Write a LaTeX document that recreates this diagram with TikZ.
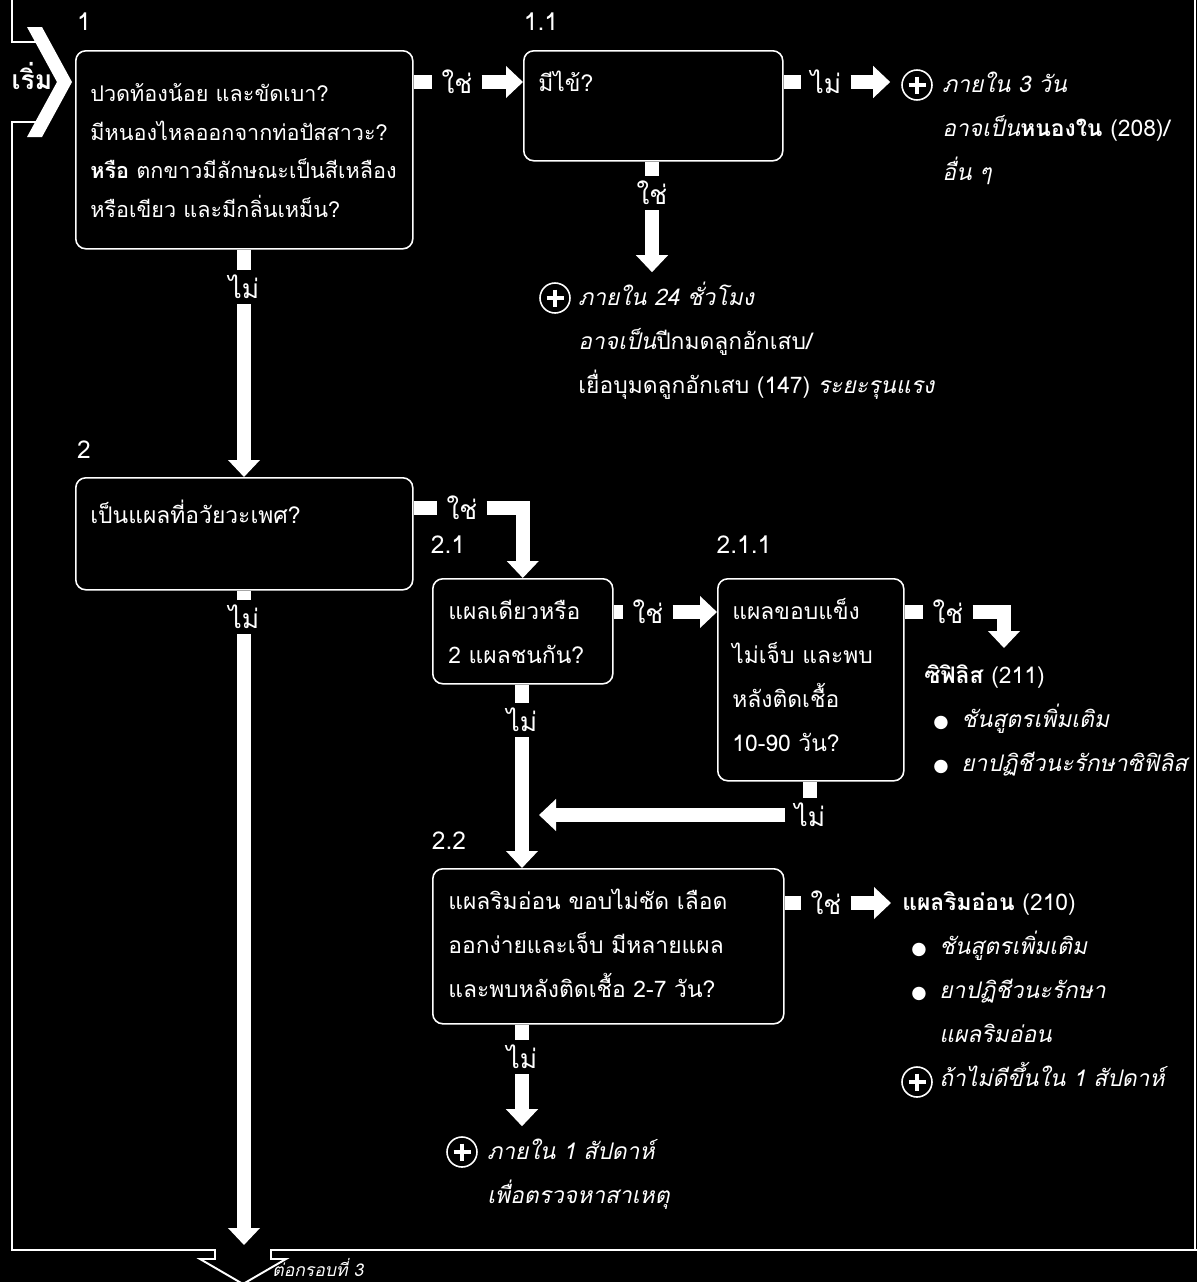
\documentclass[tikz,border=0pt]{standalone}
\usepackage{fontspec}
\setmainfont{Loma}[Script=Thai]
\newfontfamily\symfont{DejaVu Sans}
\usepackage{tikz}
\usetikzlibrary{arrows.meta, calc, positioning}

\newcommand{\unitpx}{0.02cm}
\newcommand{\bulletmark}{\makebox[0.56cm][l]{\symfont\fontsize{10}{10}\selectfont ●}}
\newcommand{\textlines}[1]{\begin{tabular}[t]{@{}l@{}}#1\end{tabular}}

\begin{document}
\begin{tikzpicture}[x=0.02cm, y=-0.02cm,
    box/.style={draw=white, line width=0.9pt, rounded corners=0.2cm, anchor=north west, inner sep=0pt},
    txt/.style={text=white, anchor=north west, inner sep=0pt, text height=0pt, font=\fontsize{13}{25}\selectfont},
    lab/.style={text=white, inner xsep=0.18cm, inner ysep=0.1cm, font=\fontsize{15}{20}\selectfont},
    num/.style={text=white, font=\fontsize{14}{20}\selectfont},
    bar/.style={white, line width=0.28cm},
    flow/.style={bar, -{Triangle[width=0.62cm, length=0.34cm]}},
    plus/.style={circle, draw=white, line width=0.9pt, minimum size=0.6cm, inner sep=0pt,
        path picture={\draw[white, line width=0.08cm]
            ([yshift=-0.13cm]path picture bounding box.north) -- ([yshift=0.13cm]path picture bounding box.south)
            ([xshift=0.13cm]path picture bounding box.west) -- ([xshift=-0.13cm]path picture bounding box.east);}},
    frame/.style={white, line width=1.1pt}]

    \useasboundingbox (0,0) rectangle (1197,1282);
    \fill[black] (0,0) rectangle (1197,1282);

    % =========================================================
    % กรอบ และลูกศร "เริ่ม"
    % =========================================================
    \draw[frame] (12,0) -- (12,42) -- (36,42);
    \draw[frame] (36,122) -- (12,122) -- (12,1250) -- (215,1250) -- (215,1259) -- (200,1259)
        -- (243,1284) -- (286,1259) -- (271,1259) -- (271,1250) -- (1197,1250);
    \draw[frame] (1195,0) -- (1195,1250);
    \fill[white] (27,27) -- (42,27) -- (72,82) -- (42,137) -- (27,137) -- (57,82) -- cycle;
    \node[num, font=\bfseries\fontsize{15}{20}\selectfont] (start) at (32,76) {เริ่ม};
    \node[num, font=\itshape\fontsize{10}{12}\selectfont, anchor=west, inner sep=0pt] (nextbox) at (272,1267) {ต่อกรอบที่ 3};

    % หมายเลขข้อ
    \node[num] (n1) at (84,22) {1};
    \node[num] (n11) at (541,22) {1.1};
    \node[num] (n2) at (84,450) {2};
    \node[num] (n21) at (448,545) {2.1};
    \node[num] (n211) at (744,545) {2.1.1};
    \node[num] (n22) at (449,841) {2.2};

    % =========================================================
    % กล่องคำถาม
    % =========================================================
    \node[box, minimum width=337*\unitpx, minimum height=198*\unitpx] (b1) at (75,50) {};
    \node[box, minimum width=259*\unitpx, minimum height=110*\unitpx] (b11) at (523,50) {};
    \node[box, minimum width=337*\unitpx, minimum height=112*\unitpx] (b2) at (75,477) {};
    \node[box, minimum width=180*\unitpx, minimum height=105*\unitpx] (b21) at (432,578) {};
    \node[box, minimum width=186*\unitpx, minimum height=202*\unitpx] (b211) at (717,578) {};
    \node[box, minimum width=351*\unitpx, minimum height=155*\unitpx] (b22) at (432,868) {};

    \node[txt, font=\fontsize{12.3}{22}\selectfont] (t1) at (90,101)
        {\textlines{ปวดท้องน้อย และขัดเบา?\\ มีหนองไหลออกจากท่อปัสสาวะ?\\ \textbf{หรือ} ตกขาวมีลักษณะเป็นสีเหลือง\\ หรือเขียว และมีกลิ่นเหม็น?}};
    \node[txt] (t11) at (538,90) {มีไข้?};
    \node[txt] (t2) at (90,522) {เป็นแผลที่อวัยวะเพศ?};
    \node[txt] (t21) at (448,619) {\textlines{แผลเดียวหรือ\\ 2 แผลชนกัน?}};
    \node[txt] (t211) at (732,619) {\textlines{แผลขอบแข็ง\\ ไม่เจ็บ และพบ\\ หลังติดเชื้อ\\ 10-90 วัน?}};
    \node[txt] (t22) at (448,909) {\textlines{แผลริมอ่อน ขอบไม่ชัด เลือด\\ ออกง่ายและเจ็บ มีหลายแผล\\ และพบหลังติดเชื้อ 2-7 วัน?}};

    % =========================================================
    % ผลลัพธ์
    % =========================================================
    \node[plus] (p1) at (917,85) {};
    \node[txt] (o1) at (942,92) {\textlines{\textit{ภายใน 3 วัน}\\ \textit{อาจเป็น}\textbf{หนองใน} (208)/\\ \textit{อื่น ๆ}}};
    \node[plus] (p2) at (555,298) {};
    \node[txt] (o2) at (578,305) {\textlines{\textit{ภายใน 24 ชั่วโมง}\\ \textit{อาจเป็น}ปีกมดลูกอักเสบ/\\ เยื่อบุมดลูกอักเสบ (147) \textit{ระยะรุนแรง}}};
    \node[txt] (syph) at (924,683) {\textlines{\textbf{ซิฟิลิส} (211)\\ \hspace{0.18cm}\bulletmark\textit{ชันสูตรเพิ่มเติม}\\ \hspace{0.18cm}\bulletmark\textit{ยาปฏิชีวนะรักษาซิฟิลิส}}};
    \node[txt] (r22) at (902,910) {\textlines{\textbf{แผลริมอ่อน} (210)\\ \hspace{0.18cm}\bulletmark\textit{ชันสูตรเพิ่มเติม}\\ \hspace{0.18cm}\bulletmark\textit{ยาปฏิชีวนะรักษา}\\ \hspace{0.74cm}\textit{แผลริมอ่อน}\\ \hspace{0.74cm}\textit{ถ้าไม่ดีขึ้นใน 1 สัปดาห์}}};
    \node[plus] (p3) at (917,1082) {};
    \node[plus] (p4) at (462,1152) {};
    \node[txt] (o4) at (487,1159) {\textlines{\textit{ภายใน 1 สัปดาห์}\\ \textit{เพื่อตรวจหาสาเหตุ}}};

    % =========================================================
    % ป้าย ใช่ / ไม่ และลูกศร
    % =========================================================
    \node[lab] (yes1) at (457,82) {ใช่};
    \node[lab] (no11) at (826,82) {ไม่};
    \node[lab] (yes11) at (652,193) {ใช่};
    \node[lab] (no1) at (244,287) {ไม่};
    \node[lab] (yes2) at (462,508) {ใช่};
    \node[lab] (no2) at (244,617) {ไม่};
    \node[lab] (yes21) at (648,612) {ใช่};
    \node[lab] (no21) at (522,720) {ไม่};
    \node[lab] (yes211) at (948,612) {ใช่};
    \node[lab] (no211) at (810,815) {ไม่};
    \node[lab] (yes22) at (826,903) {ใช่};
    \node[lab] (no22) at (522,1057) {ไม่};
    \coordinate (next) at (244,1245);

    \draw[bar] (b1.east |- yes1) -- (yes1);
    \draw[flow] (yes1) -- (b11.west |- yes1);
    \draw[bar] (b11.east |- no11) -- (no11);
    \draw[flow, shorten >=0.22cm] (no11) -- (no11 -| p1.west);
    \draw[bar] (b11.south -| yes11) -- (yes11);
    \draw[flow, shorten >=0.2cm] (yes11) -- (yes11 |- p2.north);
    \draw[bar] (b1.south -| no1) -- (no1);
    \draw[flow] (no1) -- (no1 |- b2.north);

    \draw[bar] (b2.east |- yes2) -- (yes2);
    \draw[flow] (yes2) -| (b21.north);
    \draw[bar] (b2.south -| no2) -- (no2);
    \draw[flow] (no2) -- (next);
    \draw[bar] (b21.east |- yes21) -- (yes21);
    \draw[flow] (yes21) -- (b211.west |- yes21);
    \draw[bar] (b21.south -| no21) -- (no21);
    \draw[flow] (no21) -- (no21 |- b22.north);
    \draw[bar] (b211.east |- yes211) -- (yes211);
    \draw[flow] (yes211) -| ([xshift=1.6cm, yshift=0.7cm]syph.north west);
    \draw[bar] (b211.south -| no211) -- (no211);
    \draw[flow] (no211) -- ($(no21 |- no211)+(17,0)$);
    \draw[bar] (b22.east |- yes22) -- (yes22);
    \draw[flow, shorten >=0.22cm] (yes22) -- (yes22 -| r22.west);
    \draw[bar] (b22.south -| no22) -- (no22);
    \draw[flow, shorten >=0.2cm] (no22) -- (no22 |- p4.north);

\end{tikzpicture}
\end{document}
